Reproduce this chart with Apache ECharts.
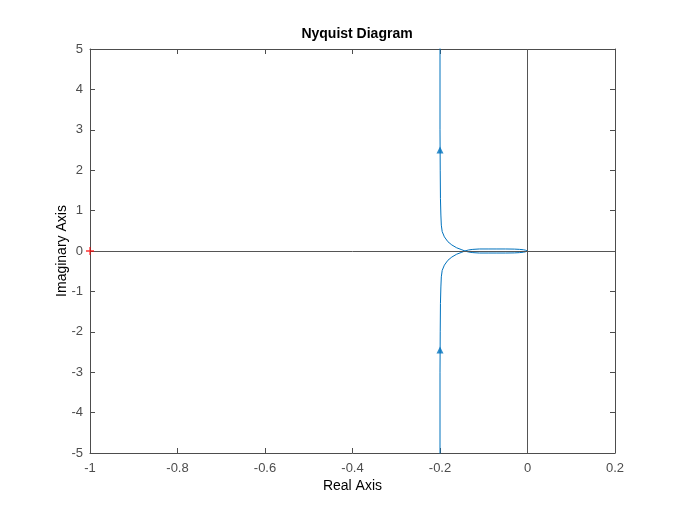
<!DOCTYPE html>
<html>
<head>
<meta charset="utf-8">
<script src="https://cdn.jsdelivr.net/npm/echarts@6/dist/echarts.min.js"></script>
<style>
  html, body { margin: 0; padding: 0; background: #fff; }
  #chart { width: 677px; height: 506px; }
</style>
</head>
<body>
<div id="chart"></div>
<script>
// upper branch (from +j infinity down to the origin)
const upperRe = [-0.2, -0.2, -0.1995, -0.199, -0.198, -0.197, -0.195, -0.19, -0.182, -0.173, -0.162, -0.15, -0.143, -0.135, -0.125, -0.11, -0.09, -0.07, -0.05, -0.03, -0.018, -0.009, -0.004, 0];
const upperIm = [6, 3, 2, 1.3, 0.89, 0.64, 0.48, 0.35, 0.23, 0.15, 0.08, 0.03, 0, -0.025, -0.04, -0.05, -0.05, -0.05, -0.05, -0.047, -0.04, -0.03, -0.018, 0];
// lower branch (mirror image)
const lowerRe = [-0.2, -0.2, -0.1995, -0.199, -0.198, -0.197, -0.195, -0.19, -0.182, -0.173, -0.162, -0.15, -0.143, -0.135, -0.125, -0.11, -0.09, -0.07, -0.05, -0.03, -0.018, -0.009, -0.004, 0];
const lowerIm = [-6, -3, -2, -1.3, -0.89, -0.64, -0.48, -0.35, -0.23, -0.15, -0.08, -0.03, 0, 0.025, 0.04, 0.05, 0.05, 0.05, 0.05, 0.047, 0.04, 0.03, 0.018, 0];
// direction arrows
const arrowPts = [[-0.2, 2.5], [-0.2, -2.45]];
// critical point
const critPt = [[-1, 0]];

const xTicks = [-1, -0.8, -0.6, -0.4, -0.2, 0, 0.2];
const yTicks = [-5, -4, -3, -2, -1, 0, 1, 2, 3, 4, 5];

const font = "'Liberation Sans', Arial, Helvetica, sans-serif";
const lineColor = '#0072BD';
const axisColor = '#4d4d4d';

function zip(a, b) {
    return a.map((v, i) => [v, b[i]]);
}

const chart = echarts.init(document.getElementById('chart'));

const baseAxis = {
    type: 'value',
    axisLine: { show: true, onZero: false, lineStyle: { color: axisColor, width: 1 } },
    axisTick: { show: true, inside: true, length: 5, lineStyle: { color: axisColor } },
    splitLine: { show: false }
};

const option = {
    animation: false,
    backgroundColor: '#fff',
    title: {
        text: 'Nyquist Diagram',
        left: 352,
        textAlign: 'center',
        top: 22,
        textStyle: { fontFamily: font, fontSize: 14, fontWeight: 'bold', color: '#000' }
    },
    grid: { left: 90, right: 62, top: 49, bottom: 53 },
    xAxis: [
        Object.assign({}, baseAxis, {
            position: 'bottom',
            min: xTicks[0], max: xTicks[xTicks.length - 1], interval: 0.2,
            name: 'Real Axis', nameLocation: 'middle', nameGap: 26,
            nameMoveOverlap: false,
            nameTextStyle: { fontFamily: font, fontSize: 14, color: '#000' },
            axisLabel: { fontFamily: font, fontSize: 13, color: axisColor, margin: 9 }
        }),
        Object.assign({}, baseAxis, {
            position: 'top',
            min: xTicks[0], max: xTicks[xTicks.length - 1], interval: 0.2,
            axisLabel: { show: false }
        })
    ],
    yAxis: [
        Object.assign({}, baseAxis, {
            position: 'left',
            min: yTicks[0], max: yTicks[yTicks.length - 1], interval: 1,
            name: 'Imaginary Axis', nameLocation: 'middle', nameGap: 21,
            nameMoveOverlap: false,
            nameTextStyle: { fontFamily: font, fontSize: 14, color: '#000' },
            axisLabel: { fontFamily: font, fontSize: 13, color: axisColor, margin: 7 }
        }),
        Object.assign({}, baseAxis, {
            position: 'right',
            min: yTicks[0], max: yTicks[yTicks.length - 1], interval: 1,
            axisLabel: { show: false }
        })
    ],
    series: [
        {
            type: 'line',
            data: zip(upperRe, upperIm),
            showSymbol: false,
            lineStyle: { color: lineColor, width: 1 },
            markLine: {
                silent: true,
                symbol: 'none',
                label: { show: false },
                lineStyle: { color: '#555', width: 1, type: 'solid' },
                data: [{ xAxis: 0 }, { yAxis: 0 }]
            },
            z: 3
        },
        {
            type: 'line',
            data: zip(lowerRe, lowerIm),
            showSymbol: false,
            lineStyle: { color: lineColor, width: 1 },
            z: 3
        },
        {
            type: 'scatter',
            data: arrowPts,
            symbol: 'triangle',
            symbolSize: [7, 7],
            itemStyle: { color: lineColor },
            z: 4
        },
        {
            type: 'scatter',
            data: critPt,
            clip: false,
            symbol: 'path://M4.2,0h1.6v10h-1.6z M0,4.2h10v1.6h-10z',
            symbolSize: 8,
            itemStyle: { color: '#ff0000' },
            z: 5
        }
    ]
};

chart.setOption(option);
window.addEventListener('resize', function () {
    chart.resize();
});
</script>
</body>
</html>
